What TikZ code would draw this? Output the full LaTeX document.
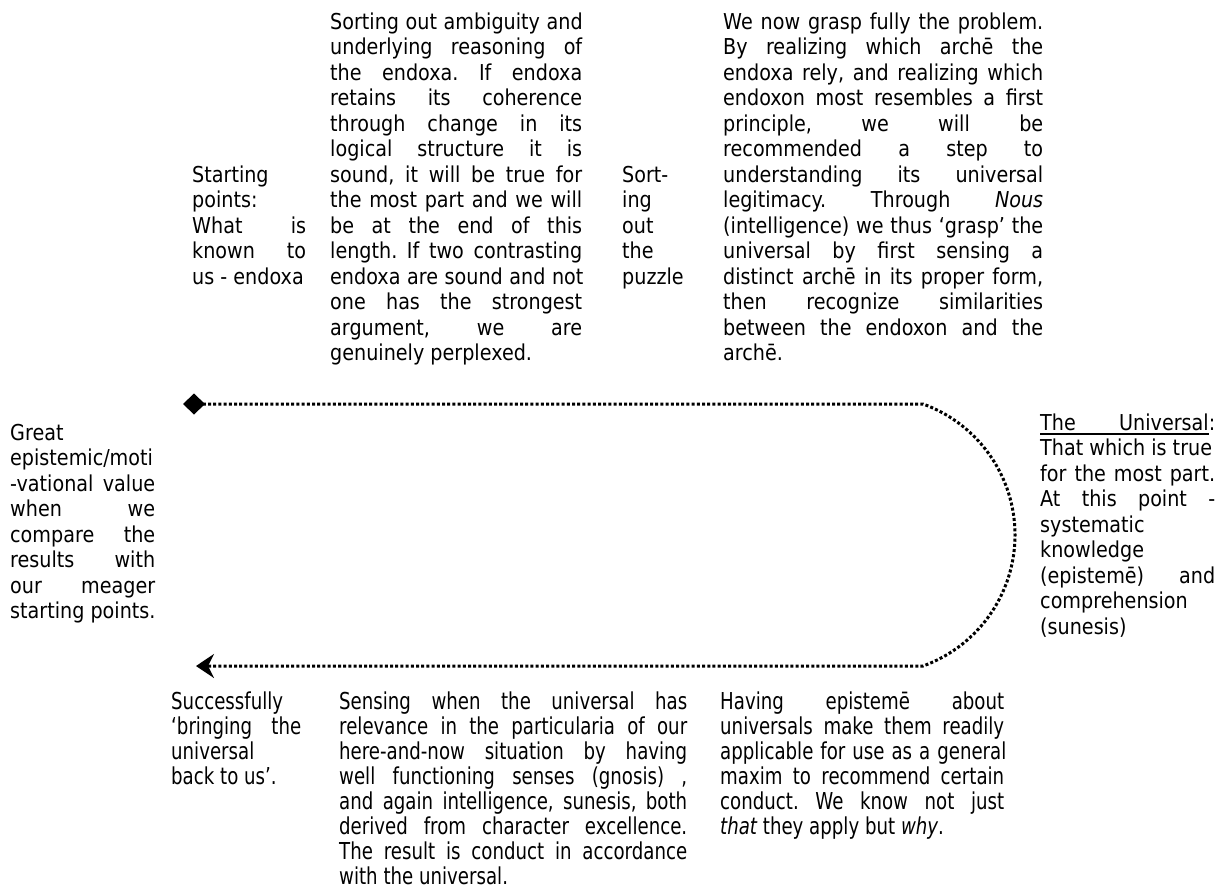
\documentclass[tikz,border=0pt]{standalone}
\usepackage{fontspec}
\usetikzlibrary{arrows.meta}
\newfontfamily\tfnt[FakeStretch=0.875]{DejaVu Sans}
\newfontfamily\bfnt[FakeStretch=0.78]{DejaVu Sans}
\newlength\cw
\newcommand\tstr{\vrule height 21pt depth 7pt width 0pt}
\newcommand\jl[1]{\hbox to\hsize{\tstr\spaceskip=0.3em plus 1fill\relax\xspaceskip=\spaceskip\relax #1}}
\newcommand\nl[1]{\hbox{\tstr #1}}
\newcommand\blk[2]{\vbox{\hsize=#1\relax\lineskiplimit=-\maxdimen\frenchspacing #2}}
\tikzset{
  txt/.style={inner sep=0pt, anchor=north west, font={\tfnt\fontsize{21.9}{25.5}\selectfont}},
  btxt/.style={inner sep=0pt, anchor=north west, font={\bfnt\fontsize{23.3}{25}\selectfont}},
  conn/.style={line width=3pt, dash pattern=on 3pt off 2.2pt}
}
\begin{document}
\begin{tikzpicture}[x=1pt,y=-1pt]
\useasboundingbox (0,0) rectangle (1225,894);
% top row
\node[txt] (a) at (192,161) {\blk{114pt}{\nl{Starting}\nl{points:}\jl{What is}\jl{known to}\nl{us - endoxa}}};
\node[txt] (b) at (330,8) {\blk{252pt}{%
\jl{Sorting out ambiguity and}
\jl{underlying reasoning of}
\jl{the endoxa. If endoxa}
\jl{retains its coherence}
\jl{through change in its}
\jl{logical structure it is}
\jl{sound, it will be true for}
\jl{the most part and we will}
\jl{be at the end of this}
\jl{length. If two contrasting}
\jl{endoxa are sound and not}
\jl{one has the strongest}
\jl{argument, we are}
\nl{genuinely perplexed.}}};
\node[txt] (c) at (622,161) {\blk{58pt}{\nl{Sort-}\nl{ing}\nl{out}\nl{the}\nl{puzzle}}};
\node[txt] (d) at (723,8) {\blk{320pt}{%
\jl{We now grasp fully the problem.}
\jl{By realizing which archē the}
\jl{endoxa rely, and realizing which}
\jl{endoxon most resembles a first}
\jl{principle, we will be}
\jl{recommended a step to}
\jl{understanding its universal}
\jl{legitimacy. Through {\itshape Nous}}
\jl{(intelligence) we thus ‘grasp’ the}
\jl{universal by first sensing a}
\jl{distinct archē in its proper form,}
\jl{then recognize similarities}
\jl{between the endoxon and the}
\nl{archē.}}};
% side blocks
\node[txt] (g) at (10,419) {\blk{145pt}{%
\nl{Great}
\nl{epistemic/moti}
\jl{-vational value}
\jl{when we}
\jl{compare the}
\jl{results with}
\jl{our meager}
\nl{starting points.}}};
\node[txt] (u) at (1040,409) {\blk{175pt}{\settowidth\cw{:}%
\hbox to\hsize{\tstr\rlap{\vrule width\dimexpr\hsize-\cw\relax height -2.6pt depth 4.3pt}The\hfill Universal:}
\nl{That which is true}
\jl{for the most part.}
\jl{At this point -}
\nl{systematic}
\nl{knowledge}
\jl{(epistemē) and}
\nl{comprehension}
\nl{(sunesis)}}};
% bottom row
\node[btxt] (e) at (171,688) {\blk{130pt}{%
\nl{Successfully}
\jl{‘bringing the}
\nl{universal}
\nl{back to us’.}}};
\node[btxt] (f) at (339,688) {\blk{348pt}{%
\jl{Sensing when the universal has}
\jl{relevance in the particularia of our}
\jl{here-and-now situation by having}
\jl{well functioning senses (gnosis) ,}
\jl{and again intelligence, sunesis, both}
\jl{derived from character excellence.}
\jl{The result is conduct in accordance}
\nl{with the universal.}}};
\node[btxt] (h) at (720,688) {\blk{284pt}{%
\jl{Having epistemē about}
\jl{universals make them readily}
\jl{applicable for use as a general}
\jl{maxim to recommend certain}
\jl{conduct. We know not just}
\nl{{\itshape that} they apply but {\itshape why}.}}};
% connector
\coordinate (ls) at (183,404);
\coordinate (c1) at (923,404);
\coordinate (cr) at (1015,535);
\coordinate (c2) at (923,666);
\coordinate (le) at (196,666);
\draw[conn, {Diamond[length=22pt,width=21pt]}-{Stealth[length=18pt,width=24pt,inset=6pt]}]
  (ls) -- (c1) .. controls (978.2,423.9) and (1015,476.3) .. (cr)
  .. controls (1015,593.7) and (978.2,646.1) .. (c2) -- (le);
\end{tikzpicture}
\end{document}
